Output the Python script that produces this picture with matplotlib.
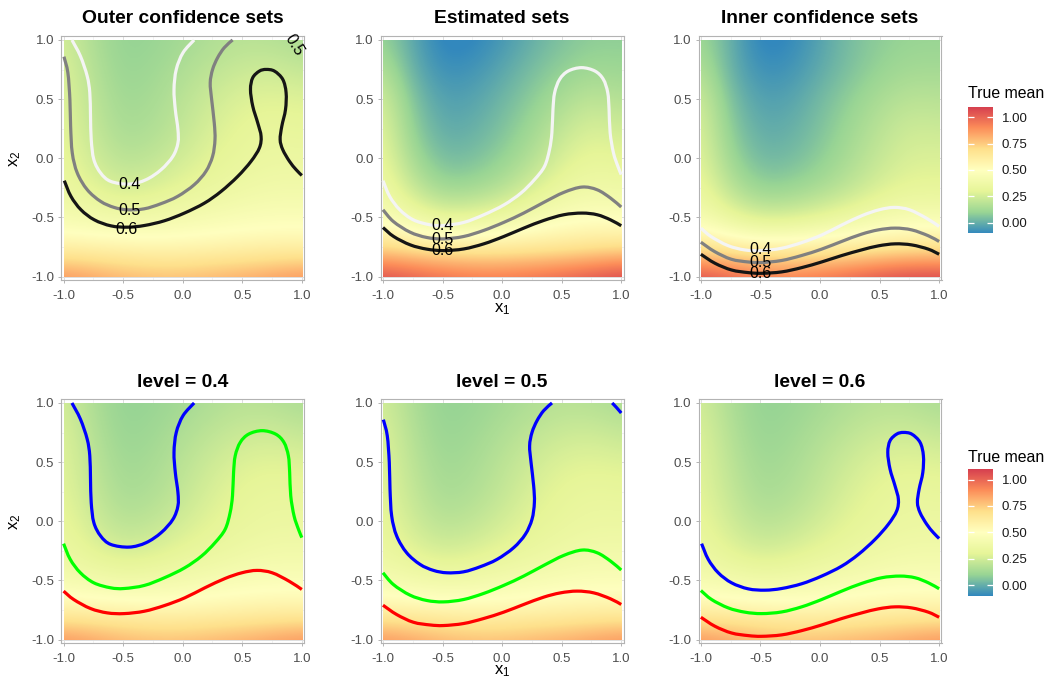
import numpy as np
import matplotlib
matplotlib.use("Agg")
import matplotlib.pyplot as plt
from matplotlib.path import Path
from matplotlib.patches import PathPatch, Rectangle
from matplotlib.colors import LinearSegmentedColormap, Normalize
import matplotlib.cm as cm

plt.rcParams['font.family'] = ['Liberation Sans', 'DejaVu Sans']
plt.rcParams['mathtext.fontset'] = 'custom'
plt.rcParams['mathtext.rm'] = 'Liberation Sans'
plt.rcParams['mathtext.it'] = 'Liberation Sans:italic'

# ---------------- data ----------------
grid_x = [-1.0, -0.75, -0.5, -0.25, 0.0, 0.25, 0.5, 0.75, 1.0]
grid_y = [1.0, 0.75, 0.5, 0.25, 0.0, -0.25, -0.5, -0.75, -1.0]   # rows, top to bottom

# true mean shown behind "Outer" and the bottom row
field_true = [
    [0.25, 0.15, 0.09, 0.10, 0.13, 0.16, 0.18, 0.17, 0.15],
    [0.28, 0.17, 0.10, 0.12, 0.16, 0.20, 0.23, 0.24, 0.21],
    [0.29, 0.19, 0.12, 0.14, 0.19, 0.24, 0.28, 0.29, 0.28],
    [0.30, 0.21, 0.14, 0.16, 0.21, 0.27, 0.31, 0.33, 0.32],
    [0.32, 0.24, 0.18, 0.20, 0.25, 0.30, 0.33, 0.35, 0.35],
    [0.35, 0.29, 0.25, 0.27, 0.31, 0.34, 0.37, 0.39, 0.39],
    [0.42, 0.40, 0.38, 0.39, 0.41, 0.43, 0.45, 0.46, 0.46],
    [0.58, 0.57, 0.56, 0.55, 0.55, 0.56, 0.57, 0.58, 0.58],
    [0.90, 0.86, 0.82, 0.80, 0.80, 0.82, 0.84, 0.87, 0.90],
]
# shown behind "Estimated sets"
field_est = [
    [0.10, -0.02, -0.12, -0.11, -0.06, 0.00, 0.05, 0.08, 0.08],
    [0.18, 0.00, -0.08, -0.07, -0.02, 0.04, 0.09, 0.12, 0.11],
    [0.26, 0.05, -0.04, -0.03, 0.02, 0.08, 0.15, 0.20, 0.17],
    [0.30, 0.08, -0.01, 0.00, 0.05, 0.12, 0.21, 0.27, 0.24],
    [0.33, 0.13, 0.03, 0.04, 0.09, 0.17, 0.27, 0.32, 0.30],
    [0.37, 0.22, 0.11, 0.12, 0.17, 0.26, 0.34, 0.38, 0.37],
    [0.45, 0.37, 0.30, 0.31, 0.35, 0.41, 0.46, 0.48, 0.47],
    [0.70, 0.66, 0.63, 0.62, 0.62, 0.63, 0.64, 0.66, 0.68],
    [1.08, 1.04, 1.00, 0.97, 0.97, 0.99, 1.02, 1.06, 1.10],
]
# shown behind "Inner confidence sets"
field_low = [
    [0.12, 0.00, -0.12, -0.10, -0.03, 0.04, 0.08, 0.10, 0.10],
    [0.18, 0.00, -0.08, -0.07, -0.01, 0.05, 0.10, 0.13, 0.13],
    [0.25, 0.04, -0.04, -0.03, 0.03, 0.09, 0.15, 0.19, 0.18],
    [0.28, 0.07, -0.01, 0.00, 0.05, 0.12, 0.19, 0.24, 0.23],
    [0.30, 0.11, 0.02, 0.03, 0.08, 0.15, 0.22, 0.27, 0.27],
    [0.34, 0.18, 0.09, 0.10, 0.14, 0.20, 0.27, 0.31, 0.31],
    [0.42, 0.32, 0.25, 0.26, 0.30, 0.35, 0.40, 0.43, 0.42],
    [0.66, 0.61, 0.58, 0.58, 0.59, 0.61, 0.63, 0.65, 0.66],
    [1.08, 1.03, 0.98, 0.96, 0.98, 1.02, 1.07, 1.10, 1.10],
]

# contour lines (x1, x2)
outer04_x = [-0.93, -0.859, -0.802, -0.780, -0.774, -0.768, -0.746, -0.689, -0.605, -0.449, -0.308, -0.181, -0.082, -0.040, -0.040, -0.062, -0.073, -0.054, 0.003, 0.096]
outer04_y = [1.0, 0.864, 0.695, 0.554, 0.356, 0.158, -0.011, -0.124, -0.195, -0.218, -0.181, -0.096, 0.017, 0.130, 0.243, 0.412, 0.582, 0.751, 0.893, 1.0]
est04_x = [-1.0, -0.944, -0.859, -0.746, -0.605, -0.492, -0.322, -0.153, 0.017, 0.158, 0.271, 0.356, 0.398, 0.418, 0.427, 0.441, 0.483, 0.554, 0.667, 0.780, 0.850, 0.887, 0.898, 0.907, 0.935, 0.972, 1.0]
est04_y = [-0.189, -0.322, -0.435, -0.520, -0.562, -0.568, -0.542, -0.477, -0.393, -0.294, -0.181, -0.068, 0.073, 0.215, 0.412, 0.554, 0.667, 0.737, 0.766, 0.737, 0.667, 0.554, 0.412, 0.215, 0.045, -0.068, -0.138]
inner04_x = [-1.0, -0.915, -0.774, -0.633, -0.492, -0.322, -0.153, 0.017, 0.186, 0.356, 0.497, 0.624, 0.751, 0.893, 1.0]
inner04_y = [-0.590, -0.661, -0.737, -0.774, -0.780, -0.760, -0.712, -0.647, -0.562, -0.483, -0.435, -0.415, -0.435, -0.506, -0.576]

outer05_x = [-0.997, -0.964, -0.947, -0.941, -0.927, -0.885, -0.801, -0.689, -0.576, -0.464, -0.324, -0.184, -0.043, 0.097, 0.195, 0.251, 0.271, 0.265, 0.243, 0.231, 0.251, 0.293, 0.349, 0.419]
outer05_y = [0.859, 0.723, 0.497, 0.271, 0.045, -0.124, -0.266, -0.364, -0.415, -0.435, -0.427, -0.384, -0.322, -0.223, -0.110, 0.017, 0.158, 0.299, 0.497, 0.638, 0.751, 0.850, 0.935, 1.0]
outer05b_x = [0.924, 0.96, 1.0]
outer05b_y = [1.0, 0.962, 0.915]
est05_x = [-1.0, -0.913, -0.773, -0.633, -0.492, -0.324, -0.156, 0.013, 0.181, 0.349, 0.518, 0.672, 0.798, 0.910, 1.0]
est05_y = [-0.435, -0.534, -0.624, -0.669, -0.681, -0.661, -0.610, -0.542, -0.463, -0.373, -0.288, -0.243, -0.266, -0.336, -0.412]
inner05_x = [-1.0, -0.885, -0.745, -0.604, -0.492, -0.324, -0.156, 0.013, 0.181, 0.349, 0.489, 0.630, 0.770, 0.910, 1.0]
inner05_y = [-0.709, -0.788, -0.853, -0.876, -0.881, -0.864, -0.822, -0.768, -0.703, -0.641, -0.605, -0.590, -0.605, -0.655, -0.703]

outer06_x = [-0.994, -0.938, -0.854, -0.742, -0.602, -0.462, -0.322, -0.154, 0.014, 0.182, 0.322, 0.462, 0.574, 0.644, 0.658, 0.630, 0.588, 0.569, 0.588, 0.644, 0.700, 0.770, 0.840, 0.868, 0.863, 0.832, 0.818, 0.840, 0.896, 0.952, 1.0]
outer06_y = [-0.189, -0.322, -0.435, -0.520, -0.571, -0.582, -0.568, -0.528, -0.463, -0.379, -0.280, -0.153, -0.025, 0.088, 0.186, 0.299, 0.441, 0.582, 0.681, 0.737, 0.751, 0.737, 0.667, 0.554, 0.412, 0.271, 0.158, 0.073, -0.025, -0.096, -0.145]
est06_x = [-1.0, -0.910, -0.770, -0.630, -0.490, -0.322, -0.154, 0.014, 0.182, 0.350, 0.518, 0.672, 0.798, 0.910, 1.0]
est06_y = [-0.585, -0.661, -0.732, -0.768, -0.780, -0.766, -0.723, -0.661, -0.590, -0.525, -0.477, -0.463, -0.477, -0.520, -0.570]
inner06_x = [-1.0, -0.882, -0.742, -0.602, -0.490, -0.322, -0.154, 0.014, 0.182, 0.350, 0.490, 0.630, 0.770, 0.910, 1.0]
inner06_y = [-0.811, -0.887, -0.944, -0.966, -0.972, -0.960, -0.924, -0.876, -0.822, -0.774, -0.740, -0.723, -0.732, -0.768, -0.811]

levels = ["0.4", "0.5", "0.6"]
top_titles = ["Outer confidence sets", "Estimated sets", "Inner confidence sets"]
bottom_titles = ["level = 0.4", "level = 0.5", "level = 0.6"]
ticks = [-1.0, -0.5, 0.0, 0.5, 1.0]
tick_labels = ["-1.0", "-0.5", "0.0", "0.5", "1.0"]
cbar_ticks = [0.0, 0.25, 0.5, 0.75, 1.0]
cbar_labels = ["0.00", "0.25", "0.50", "0.75", "1.00"]
fill_limits = [-0.10, 1.10]

# label positions of contour labels (top row)
outer_lab_x = [-0.446, -0.45, -0.468]
outer_lab_y = [-0.225, -0.445, -0.60]
est_lab_x = [-0.50, -0.50, -0.50]
est_lab_y = [-0.572, -0.684, -0.780]
inner_lab_x = [-0.496, -0.496, -0.496]
inner_lab_y = [-0.769, -0.878, -0.977]

# ---------------- style ----------------
W, H = 1050, 682
spectral7 = ["#3288BD", "#99D594", "#E6F598", "#FFFFBF", "#FEE08B", "#FC8D59", "#D53E4F"]
cmap = LinearSegmentedColormap.from_list("spec", spectral7, N=512)
norm = Normalize(vmin=fill_limits[0], vmax=fill_limits[1])

fig = plt.figure(figsize=(W / 100, H / 100), dpi=100)

centers_px = [182.7, 502.1, 820.0]
tops_px = [36.3, 399.3]
aw, ah = 243.0, 244.0


def make_ax(cx, top):
    left = cx - aw / 2
    return fig.add_axes([left / W, 1 - (top + ah) / H, aw / W, ah / H])


def smooth_path(xs, ys):
    P = np.column_stack([xs, ys]).astype(float)
    n = len(P)
    Pe = np.vstack([P[0], P, P[-1]])
    verts = [P[0]]
    codes = [Path.MOVETO]
    for i in range(n - 1):
        p0, p1, p2, p3 = Pe[i], Pe[i + 1], Pe[i + 2], Pe[i + 3]
        c1 = p1 + (p2 - p0) / 6.0
        c2 = p2 - (p3 - p1) / 6.0
        verts += [c1, c2, p2]
        codes += [Path.CURVE4] * 3
    return Path(verts, codes)


def draw_line(ax, xs, ys, color):
    patch = PathPatch(smooth_path(xs, ys), facecolor="none", edgecolor=color,
                      lw=2.3, zorder=3, capstyle="butt", joinstyle="round")
    ax.add_patch(patch)


def style_ax(ax, field):
    half = (grid_x[1] - grid_x[0]) / 2
    im = ax.imshow(np.array(field), extent=(grid_x[0] - half, grid_x[-1] + half,
                                            grid_y[-1] - half, grid_y[0] + half),
                   origin="upper", cmap=cmap, norm=norm, interpolation="bicubic",
                   interpolation_stage="data", zorder=1, aspect="auto")
    im.set_clip_path(Rectangle((-1.0, -1.0), 2.0, 2.0, transform=ax.transData))
    ax.set_xlim(-1.02, 1.02)
    ax.set_ylim(-1.031, 1.031)
    ax.set_xticks(ticks)
    ax.set_xticklabels(tick_labels)
    ax.set_yticks(ticks)
    ax.set_yticklabels(tick_labels)
    ax.set_xticks([-0.75, -0.25, 0.25, 0.75], minor=True)
    ax.set_yticks([-0.75, -0.25, 0.25, 0.75], minor=True)
    ax.grid(True, which="major", color="#DEDEDE", lw=0.7, zorder=0)
    ax.grid(True, which="minor", color="#EDEDED", lw=0.5, zorder=0)
    ax.set_axisbelow(True)
    ax.tick_params(which="major", length=2.5, width=0.7, color="#B3B3B3",
                   labelsize=9.5, labelcolor="#4D4D4D", pad=2.5)
    ax.tick_params(axis="x", which="major", pad=4.5)
    ax.tick_params(which="minor", length=0)
    for s in ax.spines.values():
        s.set_color("#B3B3B3")
        s.set_linewidth(0.8)


# ---------- top row ----------
top_fields = [field_true, field_est, field_low]
top_curves = [
    [(outer04_x, outer04_y), (outer05_x, outer05_y), (outer06_x, outer06_y)],
    [(est04_x, est04_y), (est05_x, est05_y), (est06_x, est06_y)],
    [(inner04_x, inner04_y), (inner05_x, inner05_y), (inner06_x, inner06_y)],
]
top_labs = [(outer_lab_x, outer_lab_y), (est_lab_x, est_lab_y), (inner_lab_x, inner_lab_y)]
top_colors = ["#F4F4F4", "#808080", "#151515"]

for j in range(3):
    ax = make_ax(centers_px[j], tops_px[0])
    style_ax(ax, top_fields[j])
    for k in range(3):
        xs, ys = top_curves[j][k]
        draw_line(ax, xs, ys, top_colors[k])
    lx, ly = top_labs[j]
    for k in range(3):
        ax.text(lx[k], ly[k], levels[k], ha="center", va="center", fontsize=11.5,
                color="black", zorder=5)
    if j == 0:
        ax.text(0.935, 0.955, "0.5", ha="center", va="center", fontsize=11.5,
                rotation=-58, color="black", zorder=5)
    fig.text(centers_px[j] / W, 1 - 23.3 / H, top_titles[j], ha="center",
             va="baseline", fontsize=13.9, fontweight="bold")

# ---------- bottom row ----------
bottom_curves = [
    [(outer04_x, outer04_y), (est04_x, est04_y), (inner04_x, inner04_y)],
    [(outer05_x, outer05_y), (est05_x, est05_y), (inner05_x, inner05_y)],
    [(outer06_x, outer06_y), (est06_x, est06_y), (inner06_x, inner06_y)],
]
bottom_colors = ["#0000FF", "#00FF00", "#FF0000"]
for j in range(3):
    ax = make_ax(centers_px[j], tops_px[1])
    style_ax(ax, field_true)
    for k in range(3):
        xs, ys = bottom_curves[j][k]
        draw_line(ax, xs, ys, bottom_colors[k])
    if j == 1:
        draw_line(ax, outer05b_x, outer05b_y, bottom_colors[0])
    fig.text(centers_px[j] / W, 1 - 386.7 / H, bottom_titles[j], ha="center",
             va="baseline", fontsize=13.9, fontweight="bold")

# axis labels
for yc in [158.3, 521.3]:
    fig.text(15 / W, 1 - yc / H, r"$\mathrm{x}_2$", rotation=90, ha="center",
             va="center", fontsize=12)
for yc in [309.0, 671.5]:
    fig.text(502.1 / W, 1 - yc / H, r"$\mathrm{x}_1$", ha="center", va="center",
             fontsize=12)

# ---------- colorbars ----------
for (ytop, ybot, tbase) in [(106.7, 233.3, 97.7), (469.0, 595.6, 461.7)]:
    cax = fig.add_axes([968.2 / W, 1 - ybot / H, 24.4 / W, (ybot - ytop) / H])
    sm = cm.ScalarMappable(norm=norm, cmap=cmap)
    cb = fig.colorbar(sm, cax=cax, ticks=cbar_ticks)
    cb.ax.set_yticklabels(cbar_labels)
    cb.outline.set_visible(False)
    cax.tick_params(which="major", left=True, right=True, labelleft=False,
                    labelright=True, direction="in", length=4.5, width=0.9,
                    color="white", labelsize=9.5, labelcolor="#1A1A1A", pad=6.5)
    cax.minorticks_off()
    fig.text(968.2 / W, 1 - tbase / H, "True mean", ha="left", va="baseline",
             fontsize=11.4)

fig.savefig("out.png", dpi=100)
